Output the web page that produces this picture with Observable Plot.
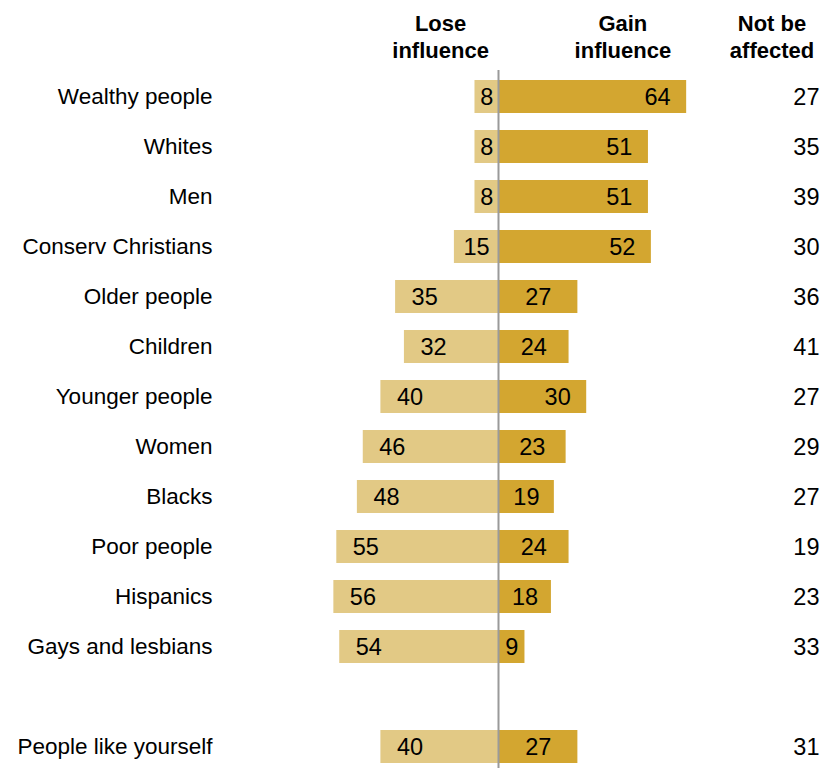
<!DOCTYPE html>
<html><head><meta charset="utf-8">
<script src="https://cdn.jsdelivr.net/npm/d3@7"></script>
<script src="https://cdn.jsdelivr.net/npm/@observablehq/plot@0.6"></script>
<style>body{margin:0;background:#fff}</style>
</head><body><div id="chart"></div>
<script>
const categories = ["Wealthy people","Whites","Men","Conserv Christians","Older people","Children","Younger people","Women","Blacks","Poor people","Hispanics","Gays and lesbians","People like yourself"];
const loseInfluence = [8,8,8,15,35,32,40,46,48,55,56,54,40];
const gainInfluence = [64,51,51,52,27,24,30,23,19,24,18,9,27];
const notAffected = [27,35,39,30,36,41,27,29,27,19,23,33,31];
const headers = ["Lose\ninfluence","Gain\ninfluence","Not be\naffected"];

const SPACER = "\u200b";
const rows = categories.map((c,i)=>({category:c, lose:loseInfluence[i], gain:gainInfluence[i], none:notAffected[i]}));
const yDomain = [...categories.slice(0,-1), SPACER, categories[categories.length-1]];

const W = 829, H = 768, ML = 220, zeroPx = 498, ppu = 2.94;
const xDomain = [-(zeroPx-ML)/ppu, (W-zeroPx)/ppu];
const LOSE_COLOR = "#E2C985", GAIN_COLOR = "#D3A630";
const headerFont = {fontSize:22, fontWeight:"bold", lineHeight:1.2, lineAnchor:"bottom", frameAnchor:"top", dy:-13};

const chart = Plot.plot({
  width: W, height: H,
  marginLeft: ML, marginRight: 0, marginTop: 70, marginBottom: 0,
  style: {fontFamily: "'Liberation Sans', Arial, sans-serif", background: "#fff", color:"#000"},
  x: {domain: xDomain, axis: null},
  y: {domain: yDomain, range: [71, 771], paddingInner: 0.34, paddingOuter: 0.17, label: null, axis: null},
  marks: [
    Plot.barX(rows, {y: "category", x1: 0, x2: d => -d.lose, fill: LOSE_COLOR}),
    Plot.barX(rows, {y: "category", x1: 0, x2: "gain", fill: GAIN_COLOR}),
    Plot.ruleX([0], {stroke: "#9a9a9a", strokeWidth: 2}),
    Plot.axisY({tickSize: 0, tickPadding: 8, fontSize: 22.5, label: null, tickFormat: d => d === SPACER ? "" : d}),
    // lose labels
    Plot.text(rows.filter(d => d.lose >= 30), {y: "category", x: d => -d.lose, text: "lose", textAnchor: "start", dx: 16, fontSize: 23.5}),
    Plot.text(rows.filter(d => d.lose < 30), {y: "category", x: d => -d.lose/2, text: "lose", textAnchor: "middle", fontSize: 23.5}),
    // gain labels
    Plot.text(rows.filter(d => d.gain >= 30), {y: "category", x: "gain", text: "gain", textAnchor: "end", dx: -16, fontSize: 23.5}),
    Plot.text(rows.filter(d => d.gain < 30), {y: "category", x: d => d.gain/2, text: "gain", textAnchor: "middle", fontSize: 23.5}),
    // not affected
    Plot.text(rows, {y: "category", text: "none", frameAnchor: "right", textAnchor: "end", dx: -10, fontSize: 23.5}),
    // headers
    Plot.text([headers[0]], {x: () => -19.7, text: d => d, textAnchor: "middle", ...headerFont}),
    Plot.text([headers[1]], {x: () => 42.3, text: d => d, textAnchor: "middle", ...headerFont}),
    Plot.text([headers[2]], {text: d => d, textAnchor: "middle", ...headerFont, frameAnchor: "top-right", dx: -57.5})
  ]
});
document.getElementById("chart").appendChild(chart);
</script>
</body></html>
